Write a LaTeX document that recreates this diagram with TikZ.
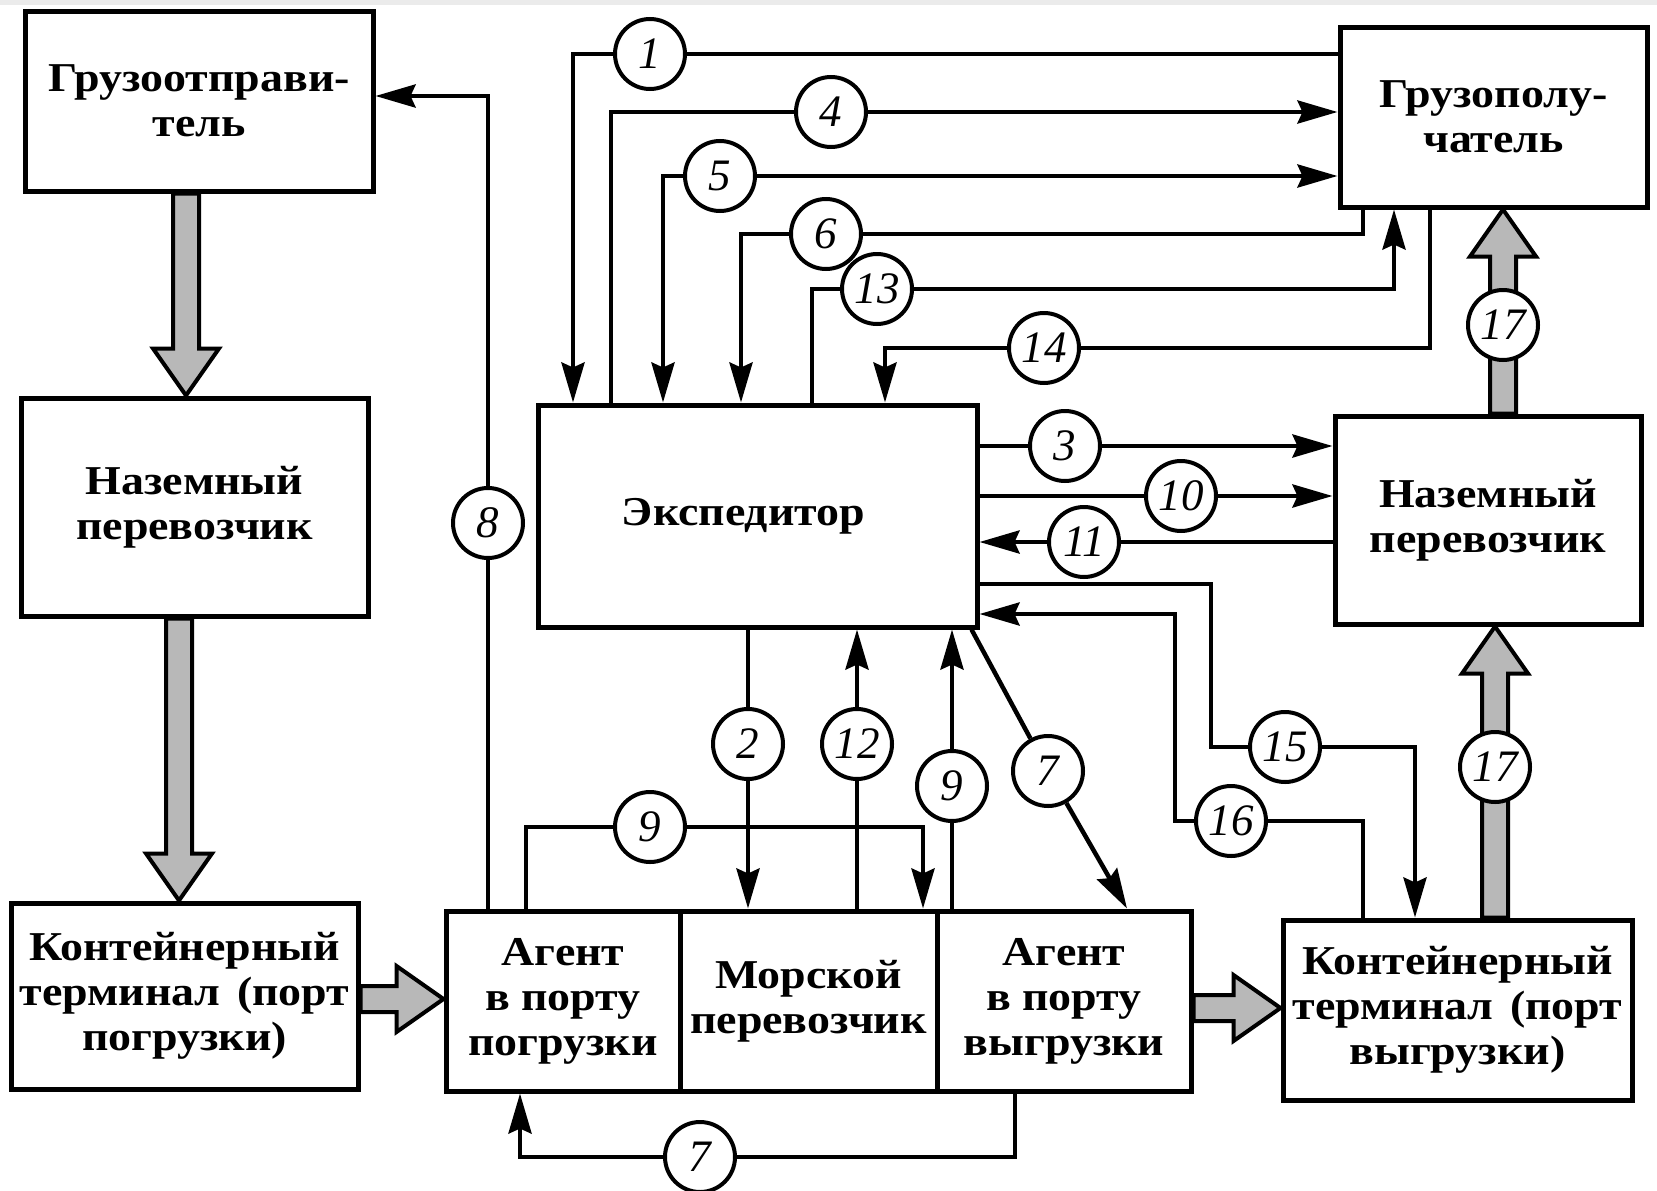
\documentclass[tikz,border=0pt]{standalone}
\usepackage{fontspec}
\setmainfont{Liberation Serif}[FakeStretch=1.12]
\newfontfamily\numfont{Liberation Serif}
\usetikzlibrary{arrows.meta,calc,backgrounds}
\newcommand\boxfont{\fontsize{41}{45}\selectfont\bfseries}
\newcommand\circfont{\numfont\itshape\fontsize{45}{45}\selectfont}
\newcommand\fatdown[3]{\path[fat] let \p1=(#1,0 |- #2), \p2=(#1,0 |- #3) in
  (\x1-13pt,\y1) -- (\x1-13pt,\y2+47pt) -- (\x1-33pt,\y2+47pt) -- (\x1,\y2) --
  (\x1+33pt,\y2+47pt) -- (\x1+13pt,\y2+47pt) -- (\x1+13pt,\y1) -- cycle;}
\newcommand\fatup[3]{\path[fat] let \p1=(#1,0 |- #2), \p2=(#1,0 |- #3) in
  (\x1-13pt,\y1) -- (\x1-13pt,\y2-47pt) -- (\x1-33pt,\y2-47pt) -- (\x1,\y2) --
  (\x1+33pt,\y2-47pt) -- (\x1+13pt,\y2-47pt) -- (\x1+13pt,\y1) -- cycle;}
\newcommand\fatright[3]{\path[fat] let \p1=(#2 |- 0,#1), \p2=(#3 |- 0,#1) in
  (\x1,\y1-13pt) -- (\x2-47pt,\y1-13pt) -- (\x2-47pt,\y1-33pt) -- (\x2,\y1) --
  (\x2-47pt,\y1+33pt) -- (\x2-47pt,\y1+13pt) -- (\x1,\y1+13pt) -- cycle;}
\tikzset{
  box/.style={draw, line width=5pt, inner sep=0pt, align=center, font=\boxfont},
  num/.style={draw, circle, line width=4pt, fill=white, minimum size=70pt, inner sep=0pt, font=\circfont},
  conn/.style={line width=4.5pt, line join=miter},
  tip/.style={-{Stealth[length=40pt,width=23pt,inset=5pt]}},
  fat/.style={draw, line width=4pt, fill=black!28, line join=miter},
}
\begin{document}
\begin{tikzpicture}[x=1pt,y=-1pt]
\useasboundingbox (0,0) rectangle (1657,1191);
\fill[black!8] (0,0) rectangle (1657,5);
% boxes
\node[box, minimum width=348pt, minimum height=180pt] (A) at (199,101) {Грузоотправи-\\тель};
\node[box, minimum width=347pt, minimum height=218pt] (B) at (194.5,507) {Наземный\\перевозчик};
\node[box, minimum width=347pt, minimum height=186pt] (C) at (184.5,996) {Контейнерный\\терминал\hspace{0.4em}(порт\\погрузки)};
\node[box, minimum width=234pt, minimum height=180pt] (D1) at (563,1001) {Агент\\в порту\\погрузки};
\node[box, minimum width=257pt, minimum height=180pt] (D2) at (808.5,1001) {Морской\\перевозчик};
\node[box, minimum width=254pt, minimum height=180pt] (D3) at (1064,1001) {Агент\\в порту\\выгрузки};
\node[box, minimum width=349pt, minimum height=180pt] (E) at (1457.5,1010) {Контейнерный\\терминал\hspace{0.4em}(порт\\выгрузки)};
\node[box, minimum width=439pt, minimum height=222pt] (F) at (757.5,516) {Экспедитор\hspace*{28pt}};
\node[box, minimum width=307pt, minimum height=180pt] (G) at (1493.5,117) {Грузополу-\\чатель};
\node[box, minimum width=306pt, minimum height=208pt] (H) at (1488,520) {Наземный\\перевозчик};
% numbered circles
\node[num] (c1) at (650,54) {1};
\node[num] (c4) at (831,112) {4};
\node[num] (c5) at (720,176) {5};
\node[num] (c6) at (826,234) {6};
\node[num] (c13) at (877,289) {13};
\node[num] (c14) at (1044,348) {14};
\node[num] (c3) at (1065,446) {3};
\node[num] (c10) at (1181,496) {10};
\node[num] (c11) at (1084,542) {11};
\node[num] (c15) at (1285,747) {15};
\node[num] (c16) at (1231,821) {16};
\node[num] (c2) at (748,744) {2};
\node[num] (c12) at (857,744) {12};
\node[num] (c9a) at (952,786) {9};
\node[num] (c7a) at (1048,771) {7};
\node[num] (c9b) at (650,827) {9};
\node[num] (c7b) at (700,1157) {7};
\node[num] (c8) at (488,523) {8};
\node[num] (c17a) at (1503,325) {17};
\node[num] (c17b) at (1495,767) {17};
\begin{scope}[on background layer]
% thick cargo-flow arrows
\fatdown{186}{A.south}{B.north}
\fatdown{179}{B.south}{C.north}
\fatright{999}{C.east}{D1.west}
\fatright{1008}{D3.east}{E.west}
\fatup{1495}{E.north}{H.south}
\fatup{1503}{H.north}{G.south}
% 1
\draw[conn] (G.west |- c1) -- (c1);
\draw[conn,tip] (c1) -- (573,0 |- c1) -- (573,0 |- F.north);
% 4
\draw[conn] (611,0 |- F.north) -- (611,0 |- c4) -- (c4);
\draw[conn,tip] (c4) -- (G.west |- c4);
% 5
\draw[conn,tip] (c5) -- (663,0 |- c5) -- (663,0 |- F.north);
\draw[conn,tip] (c5) -- (G.west |- c5);
% 6
\draw[conn] (1363,0 |- G.south) -- (1363,0 |- c6) -- (c6);
\draw[conn,tip] (c6) -- (741,0 |- c6) -- (741,0 |- F.north);
% 13
\draw[conn] (812,0 |- F.north) -- (812,0 |- c13) -- (c13);
\draw[conn,tip] (c13) -- (1394,0 |- c13) -- (1394,0 |- G.south);
% 14
\draw[conn] (1430,0 |- G.south) -- (1430,0 |- c14) -- (c14);
\draw[conn,tip] (c14) -- (885,0 |- c14) -- (885,0 |- F.north);
% 3
\draw[conn] (F.east |- c3) -- (c3);
\draw[conn,tip] (c3) -- (H.west |- c3);
% 10
\draw[conn] (F.east |- c10) -- (c10);
\draw[conn,tip] (c10) -- (H.west |- c10);
% 11
\draw[conn] (H.west |- c11) -- (c11);
\draw[conn,tip] (c11) -- (F.east |- c11);
% 15
\draw[conn] (F.east |- 0,584) -- (1211,584) -- (1211,0 |- c15) -- (c15);
\draw[conn,tip] (c15) -- (1415,0 |- c15) -- (1415,0 |- E.north);
% 16
\draw[conn] (1363,0 |- E.north) -- (1363,0 |- c16) -- (c16);
\draw[conn,tip] (c16) -- (1175,0 |- c16) -- (1175,614) -- (F.east |- 0,614);
% 2
\draw[conn] (748,0 |- F.south) -- (c2);
\draw[conn,tip] (c2) -- (748,0 |- D2.north);
% 12
\draw[conn] (857,0 |- D2.north) -- (c12);
\draw[conn,tip] (c12) -- (857,0 |- F.south);
% 9 (vertical)
\draw[conn] (952,0 |- D3.north) -- (c9a);
\draw[conn,tip] (c9a) -- (952,0 |- F.south);
% 9 (horizontal)
\draw[conn] (526,0 |- D1.north) -- (526,0 |- c9b) -- (c9b);
\draw[conn,tip] (c9b) -- (923,0 |- c9b) -- (923,0 |- D2.north);
% 7 (diagonal)
\draw[conn] ($(F.south east)+(-8,0)$) -- (c7a);
\draw[conn,tip] (c7a) -- (1127,0 |- D3.north);
% 7 (bottom)
\draw[conn] (1015,0 |- D3.south) -- (1015,0 |- c7b) -- (c7b);
\draw[conn,tip] (c7b) -- (520,0 |- c7b) -- (520,0 |- D1.south);
% 8
\draw[conn] (488,0 |- D1.north) -- (c8);
\draw[conn,tip] (c8) -- (488,96) -- (A.east |- 0,96);
\end{scope}
\end{tikzpicture}
\end{document}
